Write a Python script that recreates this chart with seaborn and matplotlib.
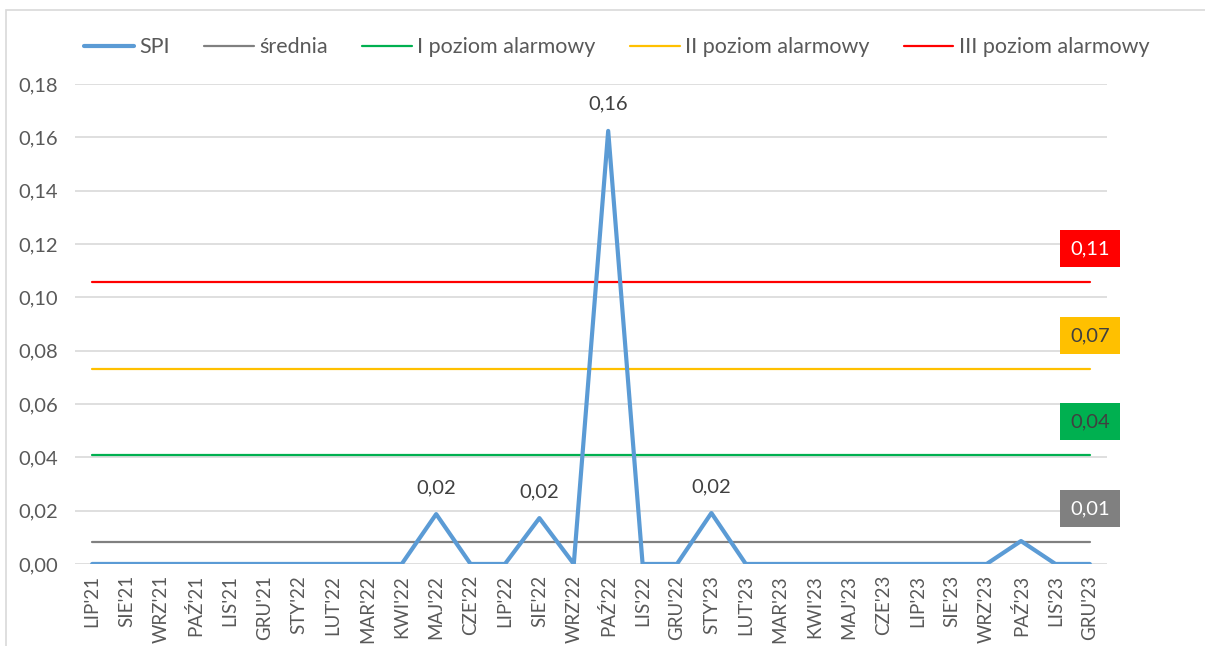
import numpy as np
import pandas as pd
import matplotlib
matplotlib.use("Agg")
import matplotlib.pyplot as plt
import seaborn as sns
from matplotlib.ticker import FuncFormatter
from matplotlib.patches import Rectangle

# Data
months = [
    "LIP'21", "SIE'21", "WRZ'21", "PAŹ'21", "LIS'21", "GRU'21",
    "STY'22", "LUT'22", "MAR'22", "KWI'22", "MAJ'22", "CZE'22",
    "LIP'22", "SIE'22", "WRZ'22", "PAŹ'22", "LIS'22", "GRU'22",
    "STY'23", "LUT'23", "MAR'23", "KWI'23", "MAJ'23", "CZE'23",
    "LIP'23", "SIE'23", "WRZ'23", "PAŹ'23", "LIS'23", "GRU'23",
]
spi = [
    0, 0, 0, 0, 0, 0,
    0, 0, 0, 0, 0.0187, 0,
    0, 0.0172, 0, 0.1624, 0, 0,
    0.0191, 0, 0, 0, 0, 0,
    0, 0, 0, 0.0086, 0, 0,
]
mean_level = 0.0083
level_1 = 0.0409
level_2 = 0.0731
level_3 = 0.1058

# labels shown above selected SPI points
spi_labels = {10: "0,02", 13: "0,02", 15: "0,16", 18: "0,02"}

df = pd.DataFrame({
    "pos": np.arange(len(months)),
    "SPI": spi,
    "średnia": np.full(len(months), mean_level),
    "I poziom alarmowy": np.full(len(months), level_1),
    "II poziom alarmowy": np.full(len(months), level_2),
    "III poziom alarmowy": np.full(len(months), level_3),
})

sns.set_theme(style="white")
plt.rcParams["font.family"] = ["Lato", "DejaVu Sans"]
text_col = "#595959"

fig = plt.figure(figsize=(12.05, 6.46), dpi=100)
ax = fig.add_axes([0.0622, 0.127, 0.8565, 0.743])

colors = {
    "SPI": "#5b9bd5",
    "średnia": "#808080",
    "I poziom alarmowy": "#00b050",
    "II poziom alarmowy": "#ffc000",
    "III poziom alarmowy": "#ff0000",
}

for name in ["średnia", "I poziom alarmowy", "II poziom alarmowy", "III poziom alarmowy"]:
    sns.lineplot(data=df, x="pos", y=name, ax=ax, color=colors[name],
                 linewidth=1.6, label=name, zorder=3)
sns.lineplot(data=df, x="pos", y="SPI", ax=ax, color=colors["SPI"],
             linewidth=3.0, label="SPI", zorder=4)

# data labels on SPI
for i, txt in spi_labels.items():
    ax.annotate(txt, (df["pos"][i], spi[i]), xytext=(0, 13), textcoords="offset points",
                ha="center", va="bottom", fontsize=14.5, color="#404040")

# boxed labels at the end of the level lines
box_specs = [
    ("średnia", mean_level, "0,01", "white"),
    ("I poziom alarmowy", level_1, "0,04", "#404040"),
    ("II poziom alarmowy", level_2, "0,07", "#404040"),
    ("III poziom alarmowy", level_3, "0,11", "white"),
]
last = df["pos"].iloc[-1]
for name, val, txt, tc in box_specs:
    ax.annotate(txt, (last, val), xytext=(0, 24), textcoords="offset points",
                ha="center", va="center", fontsize=14.5, color=tc,
                bbox=dict(boxstyle="square,pad=0.5", fc=colors[name], ec="none"))

ax.set_xlim(-0.5, len(months) - 0.5)
ax.set_ylim(0, 0.18)
ax.set_yticks(np.arange(0, 0.181, 0.02))
ax.yaxis.set_major_formatter(FuncFormatter(lambda v, p: f"{v:.2f}".replace(".", ",")))
ax.set_xticks(df["pos"])
ax.set_xticklabels(months, rotation=90)
ax.tick_params(axis="y", labelsize=14.5, colors=text_col, length=0, pad=12)
ax.tick_params(axis="x", labelsize=13.5, colors=text_col, length=0, pad=8)
ax.set_xlabel("")
ax.set_ylabel("")
ax.yaxis.grid(True, color="#d9d9d9", linewidth=1.2)
ax.set_axisbelow(True)
for s in ax.spines.values():
    s.set_visible(False)

# legend on top in the reference's order
handles, labels = ax.get_legend_handles_labels()
order = ["SPI", "średnia", "I poziom alarmowy", "II poziom alarmowy", "III poziom alarmowy"]
hmap = dict(zip(labels, handles))
ax.get_legend().remove()
fig.legend([hmap[k] for k in order], order, loc="center", bbox_to_anchor=(0.512, 0.927),
           ncol=5, frameon=False, fontsize=15.5, handlelength=2.3, handletextpad=0.25,
           columnspacing=1.6, labelcolor=text_col)

# chart frame
fig.patches.append(Rectangle((0.005, -0.01), 1.0, 0.995, transform=fig.transFigure,
                             fill=False, ec="#d9d9d9", lw=1.2))

fig.savefig("out.png", dpi=100)
